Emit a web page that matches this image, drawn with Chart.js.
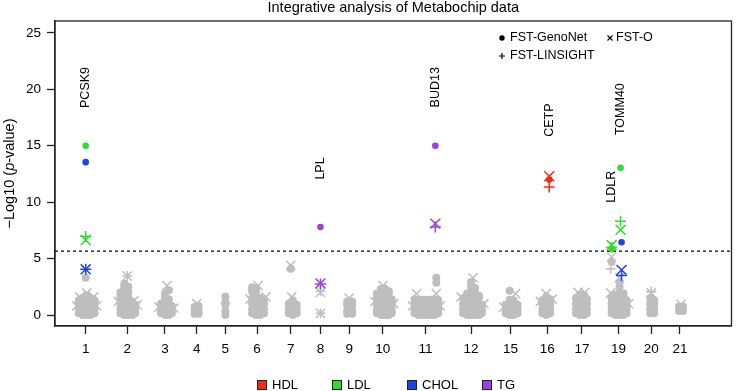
<!DOCTYPE html>
<html>
<head>
<meta charset="utf-8">
<script src="https://cdn.jsdelivr.net/npm/chart.js"></script>
<style>
  html, body { margin: 0; padding: 0; background: #fff; }
  canvas { display: block; }
</style>
</head>
<body>
<canvas id="manhattan" width="740" height="391"></canvas>
<script>
const FONT = '"Liberation Sans", Arial, Helvetica, sans-serif';

// chromosomes and their centre on the cumulative position axis
const chromosomes = ['1', '2', '3', '4', '5', '6', '7', '8', '9', '10', '11', '12', '15', '16', '17', '19', '20', '21'];
const chromCenters = [31, 73, 111, 143, 172, 204, 238, 268, 297, 331, 374, 420, 460, 497, 532, 569, 602, 631];
const yTicks = [0, 5, 10, 15, 20, 25];
const threshold = 5.66;

// background SNPs, "position:y,y,y" = SNPs stacked at one position
const greyGenoNet = [
  '24:.15,.6,1,1.3', '28:0,.5,1,1.5', '32:0,.5,1,1.5,1.7', '36:0,.5,1,1.5', '40:.15,.6,1,1.3', '31:3.3',
  '66:.15,.6,1.1,1.6,2', '70:0,.5,1,1.5,2,2.5,2.8', '74:0,.5,1,1.5,2,2.5', '78:0,.5,1,1.2', '81:.15,.5,.9',
  '107:.15,.5,1', '111:0,.5,1,1.5,1.9', '115:0,.5,1,1.4,2.2', '118:.15,.5,.8',
  '141:.1,.4,.7', '145:.1,.4,.8',
  '172:0,.35,.9,1.2,1.65',
  '199:.15,.5,1,1.5,2.1,2.45', '203:0,.5,1,1.5,2.1,2.4', '207:0,.5,1,1.5', '211:.15,.5,1,1.4',
  '236:.15,.5,1', '240:0,.5,1,1.3', '244:.15,.5,.9', '238:4.1',
  '295:.1,.4,.9,1.2', '300:.1,.4,.9,1.2',
  '325:.15,.5,1,1.5,1.9', '329:0,.5,1,1.5,2,2.3', '333:0,.5,1,1.5,2,2.35', '337:0,.5,1,1.5,2,2.1', '340:.15,.5,1,1.4',
  '363:.15,.5,1,1.4', '367:0,.5,1,1.35', '371:0,.5,1,1.35', '375:0,.5,1,1.35', '379:0,.5,1,1.35', '383:0,.5,1,1.4', '387:.15,.5,1,1.3', '385:2.85,3.3',
  '412:.15,.5,1,1.5', '416:0,.5,1,1.5,1.9', '420:0,.5,1,1.5,2,2.5,2.9', '424:0,.5,1,1.5,2,2.4', '428:0,.5,1,1.5,1.7', '431:.15,.5,.9',
  '455:.15,.5,.9', '459:0,.5,1,1.35,2.15', '463:0,.5,1,1.3', '467:.15,.5,.9',
  '492:.15,.5,1,1.3', '496:0,.5,1,1.5,1.65', '500:.15,.5,1,1.4',
  '526:.15,.5,1,1.5', '530:0,.5,1,1.5,1.8', '534:0,.5,1,1.5,1.8', '537:.15,.5,1,1.4',
  '562:.15,.5,1,1.5,4.7', '566:0,.5,1,1.5,1.8', '570:0,.5,1,1.5,2,2.5,2.9', '574:0,.5,1,1.5,1.9', '577:.15,.5,1,1.3',
  '601:.15,.5,1,1.5', '605:.15,.5,1,1.3',
  '630:.35,.75', '634:.35,.75'
];
const greyFstO = [
  '22:.8', '42:.8', '25:1.6', '39:1.6', '32:1.95',
  '73:3.45', '64:1.2', '83:.9', '80:1.3',
  '113:2.6', '105:.7', '120:.6',
  '143:1.0',
  '205:2.6', '197:1.4', '213:1.6',
  '239:1.6', '238:4.4',
  '268:2.0,.15',
  '297:1.5',
  '331:2.6', '323:1.2', '342:1.0',
  '365:1.9', '385:1.9', '361:.8', '389:.8',
  '422:3.3', '410:1.6', '433:1.0',
  '465:1.9', '453:.7',
  '496:1.9', '490:1.2', '502:1.4',
  '528:2.0', '535:2.0',
  '570:3.3', '561:1.95', '562:5.15', '579:1.0',
  '602:1.95',
  '632:.95'
];
const greyLinsight = ['73:3.45', '172:1.0', '268:2.1,.15', '561:4.1', '602:2.05'];

// significant hits: [position, -log10 p]
const hdlGenoNet = [[499, 12.0]];
const hdlFstO = [[499, 12.3]];
const hdlLinsight = [[499, 11.35]];
const ldlGenoNet = [[31, 15.0], [562, 5.9], [571, 13.05]];
const ldlFstO = [[31, 6.65], [562, 6.2], [571, 7.55]];
const ldlLinsight = [[31, 6.95], [562, 6.0], [571, 8.3]];
const cholGenoNet = [[31, 13.55], [572, 6.45]];
const cholFstO = [[31, 4.05], [572, 4.0]];
const cholLinsight = [[31, 4.05], [572, 3.5]];
const tgGenoNet = [[268, 7.8], [384, 15.0]];
const tgFstO = [[268, 2.8], [384, 8.1]];
const tgLinsight = [[268, 2.75], [384, 7.8]];

const genes = ['PCSK9', 'LPL', 'BUD13', 'CETP', 'TOMM40', 'LDLR'];
const geneX = [30.5, 268, 384, 499, 571, 562];
const geneY = [18.35, 12.0, 18.4, 15.8, 15.95, 9.95];

const traits = ['HDL', 'LDL', 'CHOL', 'TG'];
const traitColors = ['#F02D14', '#2EDC2E', '#1C45E6', '#9A42DF'];
const traitData = [
  [hdlGenoNet, hdlFstO, hdlLinsight],
  [ldlGenoNet, ldlFstO, ldlLinsight],
  [cholGenoNet, cholFstO, cholLinsight],
  [tgGenoNet, tgFstO, tgLinsight]
];
const GREY = '#BEBEBE';

const toPts = arr => arr.map(([x, y]) => ({ x, y }));
const stackPts = list => list.flatMap(s => {
  const [x, ys] = s.split(':');
  return ys.split(',').map(y => ({ x: +x, y: +y }));
});

const markers = [
  { pointStyle: 'circle', pointRadius: 3.3, pointBorderWidth: 0 },
  { pointStyle: 'crossRot', pointRadius: 7, pointBorderWidth: 1.5 },
  { pointStyle: 'cross', pointRadius: 5.5, pointBorderWidth: 1.5 }
];

const datasets = [];
traitData.forEach((sets, t) => {
  sets.forEach((d, m) => {
    datasets.push({
      label: traits[t], data: toPts(d), order: 1,
      backgroundColor: traitColors[t], borderColor: traitColors[t], ...markers[m]
    });
  });
});
datasets.push({
  label: 'threshold', data: [{ x: 0, y: threshold }, { x: 683, y: threshold }],
  showLine: true, borderColor: '#000', borderWidth: 1.3, borderDash: [3, 3], pointRadius: 0, order: 2
});
datasets.push({ label: 'grey', data: stackPts(greyGenoNet), order: 3,
  backgroundColor: GREY, borderColor: GREY, pointStyle: 'circle', pointRadius: 4, pointBorderWidth: 0 });
datasets.push({ label: 'grey', data: stackPts(greyFstO), order: 3,
  backgroundColor: GREY, borderColor: GREY, pointStyle: 'crossRot', pointRadius: 6.5, pointBorderWidth: 1.5 });
datasets.push({ label: 'grey', data: stackPts(greyLinsight), order: 3,
  backgroundColor: GREY, borderColor: GREY, pointStyle: 'cross', pointRadius: 5, pointBorderWidth: 1.5 });

const extras = {
  id: 'extras',
  afterDraw(chart) {
    const { ctx, chartArea: a, scales: { x, y } } = chart;
    ctx.save();
    ctx.strokeStyle = '#222';
    ctx.lineWidth = 1.3;
    ctx.strokeRect(a.left, a.top, a.right - a.left, a.bottom - a.top);

    ctx.fillStyle = '#000';
    ctx.font = `12.5px ${FONT}`;
    ctx.textBaseline = 'middle';
    ctx.textAlign = 'left';
    genes.forEach((g, i) => {
      ctx.save();
      ctx.translate(x.getPixelForValue(geneX[i]), y.getPixelForValue(geneY[i]));
      ctx.rotate(-Math.PI / 2);
      ctx.fillText(g, 0, 0);
      ctx.restore();
    });

    // method legend (top right)
    ctx.strokeStyle = '#000';
    ctx.lineWidth = 1.2;
    ctx.beginPath(); ctx.arc(502, 38, 2.7, 0, Math.PI * 2); ctx.fill();
    ctx.fillText('FST-GenoNet', 510, 38);
    ctx.beginPath();
    ctx.moveTo(607.5, 35.5); ctx.lineTo(612.5, 40.5);
    ctx.moveTo(612.5, 35.5); ctx.lineTo(607.5, 40.5);
    ctx.moveTo(502, 53); ctx.lineTo(502, 59);
    ctx.moveTo(499, 56); ctx.lineTo(505, 56);
    ctx.stroke();
    ctx.fillText('FST-O', 616, 38);
    ctx.fillText('FST-LINSIGHT', 510, 56);

    // trait legend (bottom)
    ctx.font = `13px ${FONT}`;
    ctx.lineWidth = 1;
    ctx.strokeStyle = '#222';
    traits.forEach((t, i) => {
      const bx = 257 + i * 75;
      ctx.fillStyle = traitColors[i];
      ctx.fillRect(bx, 380, 10, 10);
      ctx.strokeRect(bx + 0.5, 380.5, 9, 9);
      ctx.fillStyle = '#000';
      ctx.fillText(t, bx + 15, 385.5);
    });

    // y axis title with italic p
    ctx.save();
    ctx.translate(10, (a.top + a.bottom) / 2);
    ctx.rotate(-Math.PI / 2);
    const parts = [['\u2212Log10 (', `14.5px ${FONT}`], ['p', `italic 14.5px ${FONT}`], ['-value)', `14.5px ${FONT}`]];
    let total = 0;
    parts.forEach(([s, f]) => { ctx.font = f; total += ctx.measureText(s).width; });
    let px = -total / 2;
    parts.forEach(([s, f]) => { ctx.font = f; ctx.fillText(s, px, 0); px += ctx.measureText(s).width; });
    ctx.restore();

    ctx.restore();
  }
};

new Chart(document.getElementById('manhattan'), {
  type: 'scatter',
  data: { datasets },
  options: {
    responsive: false,
    animation: false,
    events: [],
    layout: { padding: { left: 0, right: 2, top: 0, bottom: 0 } },
    plugins: {
      legend: { display: false },
      tooltip: { enabled: false },
      title: {
        display: true, fullSize: false,
        text: 'Integrative analysis of Metabochip data',
        color: '#000', font: { family: FONT, size: 14.5, weight: 'normal', lineHeight: 1.1 },
        padding: { top: 0, bottom: 5.05 }
      }
    },
    scales: {
      x: {
        type: 'linear', min: 0, max: 683,
        afterBuildTicks: s => { s.ticks = chromCenters.map(v => ({ value: v })); },
        afterFit: s => { s.height = 65; },
        ticks: {
          callback: v => chromosomes[chromCenters.indexOf(v)] ?? '',
          autoSkip: false, maxRotation: 0, padding: 7,
          color: '#000', font: { family: FONT, size: 13.5 }
        },
        grid: { drawOnChartArea: false, tickLength: 8, tickColor: '#222', tickWidth: 1.3 },
        border: { color: '#222', width: 1.3 }
      },
      y: {
        min: -0.975, max: 26.06,
        afterBuildTicks: s => { s.ticks = yTicks.map(v => ({ value: v })); },
        afterFit: s => { s.width = 55; },
        ticks: { padding: 6, color: '#000', font: { family: FONT, size: 13.5 } },
        grid: { drawOnChartArea: false, tickLength: 8, tickColor: '#222', tickWidth: 1.3 },
        border: { color: '#222', width: 1.3 }
      }
    }
  },
  plugins: [extras]
});
</script>
</body>
</html>
